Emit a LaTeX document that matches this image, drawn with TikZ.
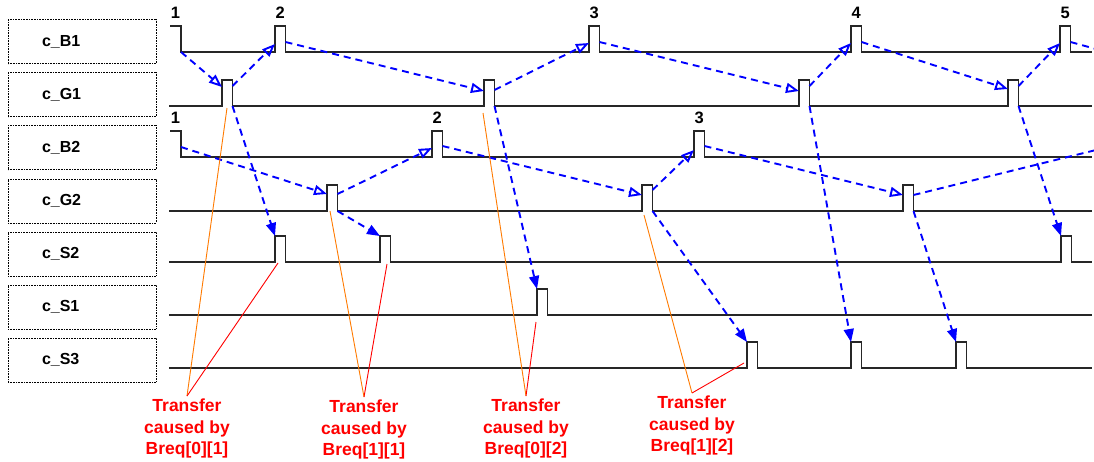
\documentclass[tikz,border=0pt]{standalone}
\usepackage{fontspec}
\setmainfont{Liberation Sans}
\usetikzlibrary{arrows.meta,positioning}
\definecolor{FlowBlue}{RGB}{0,0,255}
\definecolor{CauseOrange}{RGB}{255,122,0}
\definecolor{CauseRed}{RGB}{255,0,0}

\begin{document}
\begin{tikzpicture}[x=1pt,y=-1pt,
        sigbox/.style={draw,densely dotted,line width=0.6pt,minimum height=44pt,
                       text width=80pt,inner xsep=34pt,inner ysep=0pt,align=left,
                       font=\fontsize{16}{18}\selectfont\bfseries},
        wave/.style={black!85,line width=1.3pt},
        num/.style={black,font=\fontsize{16.5}{18}\selectfont\bfseries,inner sep=0pt,above=7pt},
        flow/.style={FlowBlue,dash pattern=on 7pt off 5pt,line width=1.9pt},
        hs/.style={flow,-{Triangle[open,length=13pt,width=10pt]}},
        tr/.style={flow,-{Triangle[length=13pt,width=10pt]}},
        cause/.style={CauseRed,align=center,inner sep=3pt,anchor=north,
                      font=\fontsize{17.5}{21.5}\selectfont\bfseries},
        ol/.style={CauseOrange,line width=0.9pt},
        rl/.style={CauseRed,line width=0.9pt}
      ]
        \useasboundingbox (0,0) rectangle (1094,461);
        \node[sigbox] (nB1) at (82,41.5) {c\_B1};
        \node[sigbox,below=8.5pt of nB1] (nG1) {c\_G1};
        \node[sigbox,below=8.5pt of nG1] (nB2) {c\_B2};
        \node[sigbox,below=8.5pt of nB2] (nG2) {c\_G2};
        \node[sigbox,below=8.5pt of nG2] (nS2) {c\_S2};
        \node[sigbox,below=8.5pt of nS2] (nS1) {c\_S1};
        \node[sigbox,below=8.5pt of nS1] (nS3) {c\_S3};

        \draw[wave] (170,26) -- (181,26) node[midway,num] {1} -- (181,52) coordinate (B1r1)
          \foreach \x [count=\i from 2] in {275,589,851,1060} {
            -- (\x,52) coordinate (B1l\i) -- ++(0,-26) coordinate (B1t\i)
            -- ++(10.5,0) node[midway,num] {\i} -- ++(0,26) coordinate (B1r\i)} -- (1092,52);
        \draw[wave] (169,106)
          \foreach \x [count=\i] in {222,484,799,1008} {
            -- (\x,106) coordinate (G1l\i) -- ++(0,-26) coordinate (G1t\i)
            -- ++(10.5,0) -- ++(0,26) coordinate (G1r\i)} -- (1092,106);
        \draw[wave] (170,131) -- (181,131) node[midway,num] {1} -- (181,157) coordinate (B2r1)
          \foreach \x [count=\i from 2] in {432,694} {
            -- (\x,157) coordinate (B2l\i) -- ++(0,-26) coordinate (B2t\i)
            -- ++(10.5,0) node[midway,num] {\i} -- ++(0,26) coordinate (B2r\i)} -- (1092,157);
        \draw[wave] (169,211)
          \foreach \x [count=\i] in {327,642,903} {
            -- (\x,211) coordinate (G2l\i) -- ++(0,-26) coordinate (G2t\i)
            -- ++(10.5,0) -- ++(0,26) coordinate (G2r\i)} -- (1092,211);
        \draw[wave] (169,262)
          \foreach \x [count=\i] in {275,380,1061} {
            -- (\x,262) coordinate (S2l\i) -- ++(0,-26) coordinate (S2t\i)
            -- ++(10.5,0) -- ++(0,26) coordinate (S2r\i)} -- (1092,262);
        \draw[wave] (169,315)
          \foreach \x [count=\i] in {537} {
            -- (\x,315) coordinate (S1l\i) -- ++(0,-26) coordinate (S1t\i)
            -- ++(10.5,0) -- ++(0,26) coordinate (S1r\i)} -- (1092,315);
        \draw[wave] (169,368)
          \foreach \x [count=\i] in {747,851,956} {
            -- (\x,368) coordinate (S3l\i) -- ++(0,-26) coordinate (S3t\i)
            -- ++(10.5,0) -- ++(0,26) coordinate (S3r\i)} -- (1092,368);

        \coordinate (B1out) at (1096,49);
        \coordinate (B2out) at (1096,150);

        \draw[hs] (B1r1) -- ([yshift=19pt]G1l1); \draw[hs] ([yshift=20pt]G1r1) -- ([yshift=8pt]B1l2);
        \draw[hs] ([yshift=10pt]B1r2) -- ([yshift=15pt]G1l2); \draw[hs] ([yshift=16pt]G1r2) -- ([yshift=9pt]B1l3);
        \draw[hs] ([yshift=10pt]B1r3) -- ([yshift=15pt]G1l3); \draw[hs] ([yshift=20pt]G1r3) -- ([yshift=9pt]B1l4);
        \draw[hs] ([yshift=10pt]B1r4) -- ([yshift=17pt]G1l4); \draw[hs] ([yshift=20pt]G1r4) -- ([yshift=9pt]B1l5);
        \draw[flow] ([yshift=10pt]B1r5) -- (B1out);

        \draw[hs] ([yshift=10pt]B2r1) -- ([yshift=17pt]G2l1); \draw[hs] ([yshift=17pt]G2r1) -- ([yshift=9pt]B2l2);
        \draw[hs] ([yshift=11pt]B2r2) -- ([yshift=16pt]G2l2); \draw[hs] ([yshift=21pt]G2r2) -- ([yshift=7pt]B2l3);
        \draw[hs] ([yshift=11pt]B2r3) -- ([yshift=16pt]G2l3);
        \draw[flow] ([yshift=16pt]G2r3) -- (B2out);

        \draw[tr] (G1r1) -- (S2t1); \draw[tr] (G2r1) -- (S2t2);
        \draw[tr] (G1r2) -- (S1t1); \draw[tr] (G2r2) -- (S3t1);
        \draw[tr] (G1r3) -- (S3t2); \draw[tr] (G2r3) -- (S3t3);
        \draw[tr] (G1r4) -- (S2t3);

        \node[cause] (c01) at (187,396) {Transfer\\caused by\\Breq[0][1]};
        \node[cause] (c11) at (364,397) {Transfer\\caused by\\Breq[1][1]};
        \node[cause] (c02) at (526,396) {Transfer\\caused by\\Breq[0][2]};
        \node[cause] (c12) at (692,393) {Transfer\\caused by\\Breq[1][2]};
        \draw[ol] (c01.north) -- ([xshift=5pt,yshift=-2pt]G1l1); \draw[rl] (c01.north) -- ([xshift=3pt,yshift=-1pt]S2l1);
        \draw[ol] (c11.north) -- ([xshift=3pt]G2l1); \draw[rl] (c11.north) -- ([xshift=7pt,yshift=-2pt]S2l2);
        \draw[ol] (c02.north) -- ([xshift=-1pt,yshift=-7pt]G1l2); \draw[rl] (c02.north) -- ([xshift=-1pt,yshift=-7pt]S1l1);
        \draw[ol] (c12.north) -- ([xshift=2pt,yshift=-4pt]G2l2); \draw[rl] (c12.north) -- ([xshift=-3pt,yshift=5pt]S3l1);
      \end{tikzpicture}
\end{document}
